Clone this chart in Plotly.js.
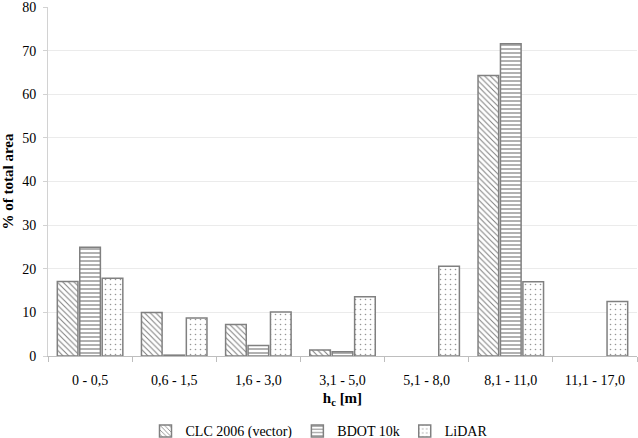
<!DOCTYPE html>
<html>
<head>
<meta charset="utf-8">
<script src="https://cdn.plot.ly/plotly-3.0.1.min.js"></script>
<style>
  html, body { margin: 0; padding: 0; background: #fff; }
</style>
</head>
<body>
<div id="graph"></div>
<script>
var categories = ["0 - 0,5", "0,6 - 1,5", "1,6 - 3,0", "3,1 - 5,0", "5,1 - 8,0", "8,1 - 11,0", "11,1 - 17,0"];
// null = no bar drawn in the reference
var clcValues = [17.1, 10.0, 7.2, 1.4, null, 64.3, null];
var bdotValues = [24.9, 0.2, 2.4, 1.0, null, 71.6, null];
var lidarValues = [17.8, 8.7, 10.1, 13.6, 20.6, 17.0, 12.5];
var seriesNames = ["CLC 2006 (vector)", "BDOT 10k", "LiDAR"];

var serif = "Liberation Serif";

var makeBar = function(name, values, pattern) {
  return {
    x: categories,
    y: values,
    name: name,
    type: "bar",
    marker: {
      color: "white",
      line: { color: "rgb(128, 128, 128)", width: 1.5 },
      pattern: pattern
    }
  };
};

var data = [
  makeBar(seriesNames[0], clcValues, { shape: "\\", fgcolor: "rgb(125, 125, 125)", bgcolor: "white", size: 4, solidity: 0.25 }),
  makeBar(seriesNames[1], bdotValues, { shape: "-", fgcolor: "rgb(125, 125, 125)", bgcolor: "white", size: 4, solidity: 0.3 }),
  makeBar(seriesNames[2], lidarValues, { shape: ".", fgcolor: "rgb(150, 150, 150)", bgcolor: "white", size: 5, solidity: 0.08 })
];

const layout = {
  width: 638,
  height: 438,
  margin: { l: 48, r: 1, t: 7, b: 82, autoexpand: false },
  paper_bgcolor: "white",
  plot_bgcolor: "white",
  barmode: "group",
  bargap: 0.2,
  bargroupgap: 0.08,
  font: { family: serif, size: 14, color: "black" },
  showlegend: true,
  legend: {
    orientation: "h",
    x: 0.5,
    xref: "container",
    xanchor: "center",
    y: -0.17,
    yref: "paper",
    yanchor: "top",
    font: { family: serif, size: 14, color: "black" },
    itemwidth: 30,
    tracegroupgap: 0
  },
  xaxis: {
    title: { text: "<b>h<sub>c</sub> [m]</b>", font: { family: serif, size: 15 }, standoff: 5 },
    showline: true,
    linecolor: "rgb(190, 190, 190)",
    linewidth: 1,
    ticks: "outside",
    tickson: "boundaries",
    ticklen: 5,
    tickcolor: "rgb(190, 190, 190)",
    ticklabelstandoff: 11,
    showgrid: false,
    tickfont: { family: serif, size: 14 }
  },
  yaxis: {
    title: { text: "<b>% of total area</b>", font: { family: serif, size: 15 }, standoff: 6 },
    range: [0, 80],
    dtick: 10,
    showline: true,
    linecolor: "rgb(210, 210, 210)",
    ticks: "outside",
    ticklen: 4,
    tickcolor: "rgb(210, 210, 210)",
    ticklabelstandoff: 4,
    ticklabeloverflow: "allow",
    showgrid: true,
    gridcolor: "rgb(235, 235, 235)",
    zeroline: false,
    tickfont: { family: serif, size: 14 }
  }
};

Plotly.newPlot(document.getElementById("graph"), data, layout, { staticPlot: true });
</script>
</body>
</html>
